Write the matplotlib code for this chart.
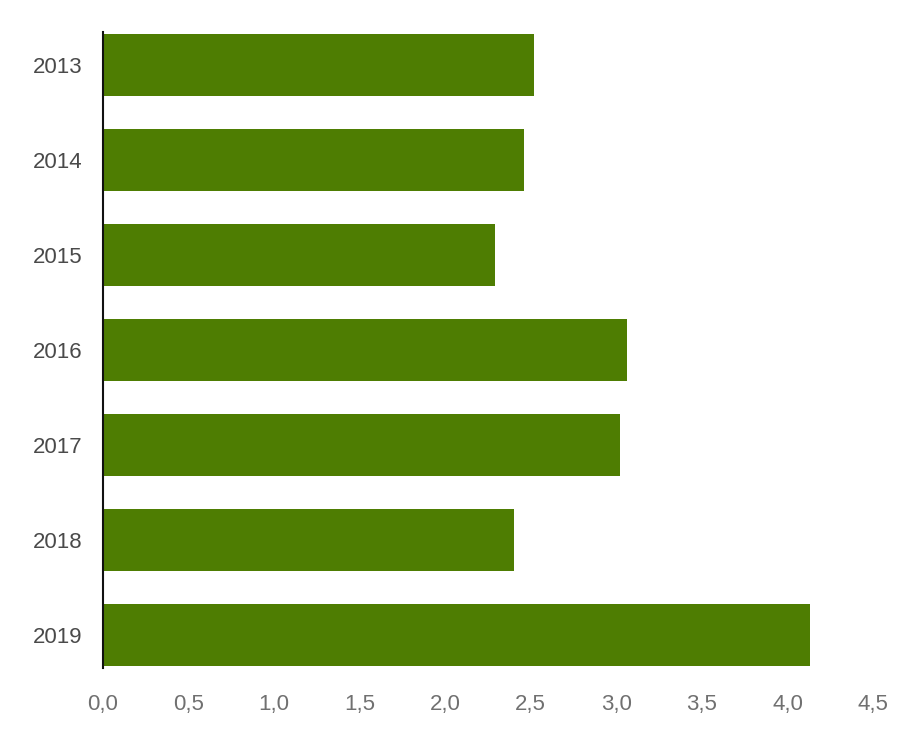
import matplotlib.pyplot as plt

# values
years = ['2013', '2014', '2015', '2016', '2017', '2018', '2019']
values = [2.52, 2.46, 2.29, 3.06, 3.02, 2.40, 4.13]
xticks = [0.0, 0.5, 1.0, 1.5, 2.0, 2.5, 3.0, 3.5, 4.0, 4.5]
xtick_labels = ['0,0', '0,5', '1,0', '1,5', '2,0', '2,5', '3,0', '3,5', '4,0', '4,5']

plt.rcParams['font.family'] = ['Liberation Sans', 'DejaVu Sans']

fig = plt.figure(figsize=(9.17, 7.35), dpi=100)
ax = fig.add_axes([103 / 917, 1 - 682.5 / 735, (873 - 103) / 917, 665 / 735])

pos = range(len(years))
ax.barh(pos, values, height=0.66, color='#4e7d02')

ax.set_xlim(0, 4.5)
ax.set_ylim(len(years) - 0.5, -0.5)
ax.set_yticks(list(pos))
ax.set_yticklabels(years)
ax.set_xticks(xticks)
ax.set_xticklabels(xtick_labels)

for s in ['top', 'right', 'bottom']:
    ax.spines[s].set_visible(False)
ax.spines['left'].set_color('#111111')
ax.spines['left'].set_linewidth(1.5)
ax.spines['left'].set_bounds(-0.35, len(years) - 0.65)

ax.tick_params(axis='y', length=0, pad=15, labelsize=16, labelcolor='#4a4a4a')
ax.tick_params(axis='x', length=0, pad=8, labelsize=16, labelcolor='#707070')

fig.savefig('out.png', dpi=100)
